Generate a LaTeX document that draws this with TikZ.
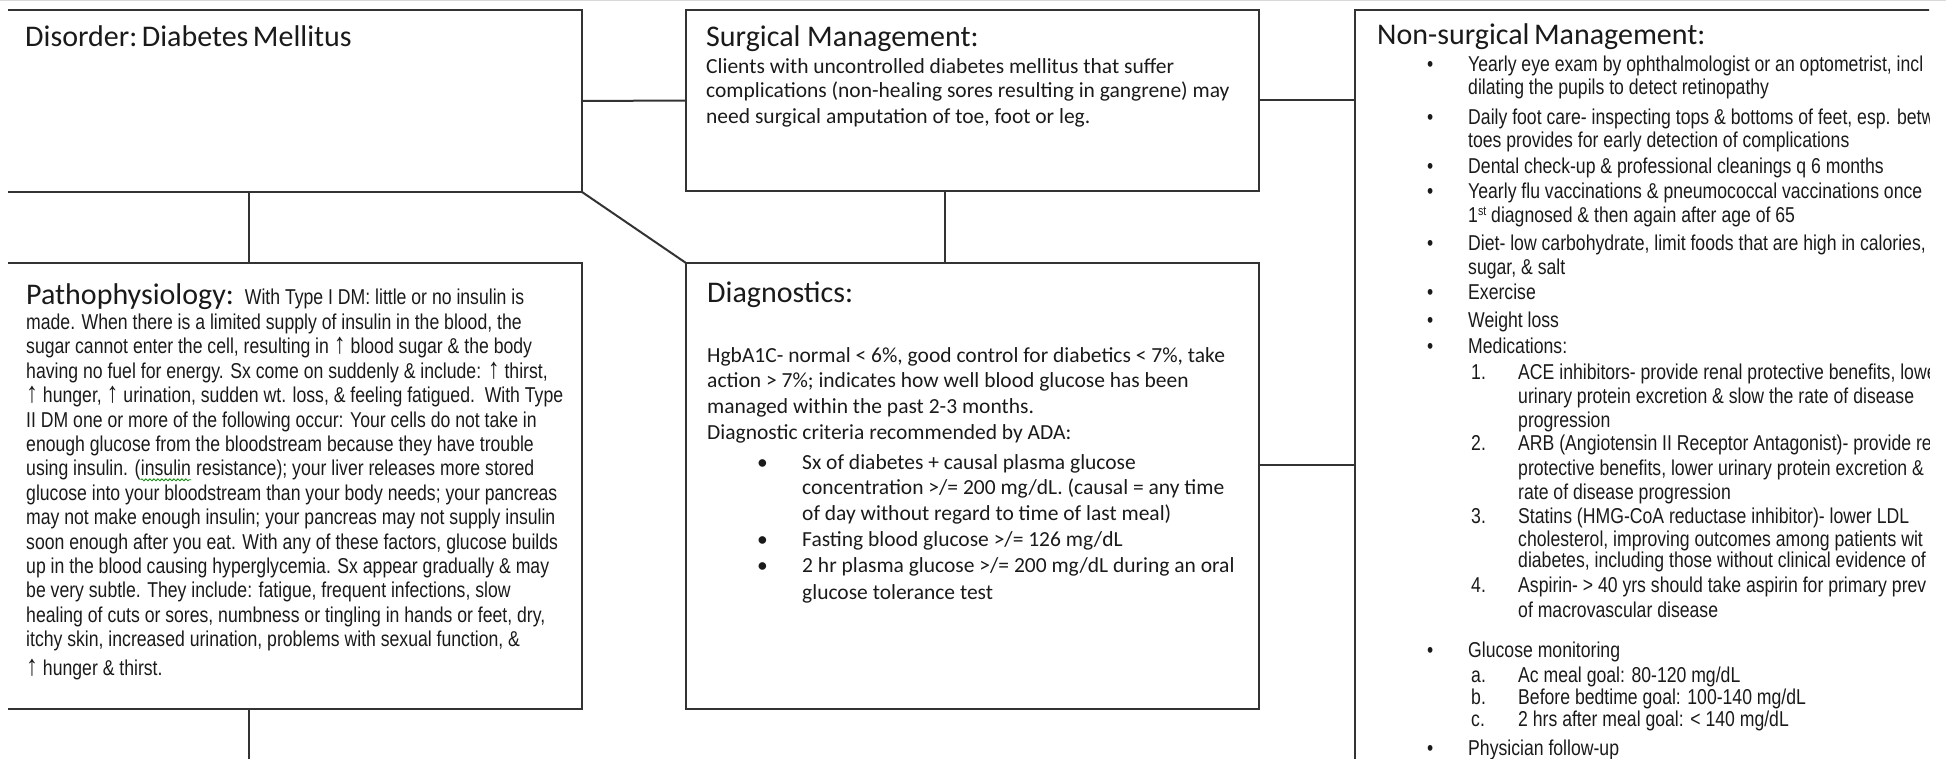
\documentclass[tikz,border=0pt]{standalone}
\usepackage{fontspec}
\setmainfont{Carlito}
\newfontfamily\narrowfont[FakeStretch=0.82]{Liberation Sans}
\newcommand\myup{{\fontsize{29}{29}\selectfont ↑}}
\newcommand\tsp{\hspace{4.5pt}}
\usetikzlibrary{decorations.pathmorphing}
\definecolor{edge}{HTML}{333333}
\definecolor{ink}{HTML}{1A1A1A}
\begin{document}
\begin{tikzpicture}[x=1pt,y=-1pt,
  box/.style={draw=edge, line width=2pt, rectangle, anchor=north west, inner sep=0pt, outer sep=0pt},
  link/.style={draw=edge, line width=2pt},
  hdr/.style={anchor=base west, inner sep=0pt, text=ink, font=\fontsize{30}{36}\selectfont},
  cal/.style={anchor=base west, inner sep=0pt, text=ink, font=\fontsize{21.5}{25}\selectfont},
  nar/.style={anchor=base west, inner sep=0pt, text=ink, font=\narrowfont\fontsize{21.5}{25}\selectfont},
  bul/.style={anchor=base west, inner sep=0pt, text=ink, font=\narrowfont\fontsize{21.5}{25}\selectfont},
]
\useasboundingbox (0,0) rectangle (1946,759);
\draw[gray!30, line width=1.5pt] (0,0.75) -- (1946,0.75);
\begin{scope}
\clip (8,-5) rectangle (1929,770);
% boxes
\node[box, minimum width=592pt, minimum height=182pt] (disorder) at (-10,10) {};
\node[box, minimum width=573pt, minimum height=181pt] (surgical) at (686,10) {};
\node[box, minimum width=592pt, minimum height=446pt] (patho) at (-10,263) {};
\node[box, minimum width=573pt, minimum height=446pt] (diag) at (686,263) {};
\node[box, minimum width=700pt, minimum height=800pt] (nonsurg) at (1355,10) {};
\coordinate (cx1) at (249,0);
\coordinate (cx2) at (945,0);
\coordinate (cy1) at (0,465);
\coordinate (bottom) at (249,780);
% connectors
\draw[link] (disorder.east) -- (surgical.west);
\draw[link] (surgical.east) -- (surgical.east -| nonsurg.west);
\draw[link] (disorder.south -| cx1) -- (patho.north -| cx1);
\draw[link] (disorder.south east) -- (diag.north west);
\draw[link] (surgical.south -| cx2) -- (diag.north -| cx2);
\draw[link] (diag.east |- cy1) -- (nonsurg.west |- cy1);
\draw[link] (patho.south -| cx1) -- (bottom);

% Disorder
\node[hdr] (t-dis) at (25,47) {Disorder:\tsp Diabetes\tsp Mellitus};

% Surgical
\node[hdr] (t-sur) at (706,47) {Surgical Management:};
\node[cal] (s1) at (706,74) {Clients with uncontrolled diabetes mellitus that suffer};
\node[cal] (s2) at (706,98) {complications (non-healing sores resulting in gangrene) may};
\node[cal] (s3) at (706,124) {need surgical amputation of toe, foot or leg.};

% Pathophysiology
\node[nar] (p0) at (26,305) {{\rmfamily\fontsize{30}{36}\selectfont Pathophysiology:}\hspace{11pt}With Type I DM: little or no insulin is};
\node[nar] (p1) at (26,329.4) {made. When there is a limited supply of insulin in the blood, the};
\node[nar] (p2) at (26,353.8) {sugar cannot enter the cell, resulting in \myup\ blood sugar \& the body};
\node[nar] (p3) at (26,378.2) {having no fuel for energy. Sx come on suddenly \& include: \myup\ thirst,};
\node[nar] (p4) at (26,402.6) {\myup\ hunger, \myup\ urination, sudden wt. loss, \& feeling fatigued.\ \ With Type};
\node[nar] (p5) at (26,427.0) {II DM one or more of the following occur: Your cells do not take in};
\node[nar] (p6) at (26,451.4) {enough glucose from the bloodstream because they have trouble};
\node[nar] (p7a) at (26,475.8) {using insulin. (};
\node[nar] (p7b) at (p7a.base east) {insulin};
\node[nar] (p7c) at (p7b.base east) {\ resistance); your liver releases more stored};
\node[nar] (p8) at (26,500.2) {glucose into your bloodstream than your body needs; your pancreas};
\node[nar] (p9) at (26,524.6) {may not make enough insulin; your pancreas may not supply insulin};
\node[nar] (p10) at (26,549.0) {soon enough after you eat. With any of these factors, glucose builds};
\node[nar] (p11) at (26,573.4) {up in the blood causing hyperglycemia. Sx appear gradually \& may};
\node[nar] (p12) at (26,597.8) {be very subtle. They include: fatigue, frequent infections, slow};
\node[nar] (p13) at (26,622.2) {healing of cuts or sores, numbness or tingling in hands or feet, dry,};
\node[nar] (p14) at (26,646.6) {itchy skin, increased urination, problems with sexual function, \&};
\node[nar] (p15) at (26,675) {\myup\ hunger \& thirst.};
\draw[green!55!black, line width=0.8pt, decorate, decoration={snake, amplitude=1pt, segment length=4pt}]
  ([yshift=-4pt]p7b.base west) -- ([yshift=-4pt]p7b.base east);

% Diagnostics
\node[hdr] (t-dia) at (707,303) {Diagnostics:};
\node[cal] (d1) at (707,362) {HgbA1C- normal < 6\%, good control for diabetics < 7\%, take};
\node[cal] (d2) at (707,387) {action > 7\%; indicates how well blood glucose has been};
\node[cal] (d3) at (707,413) {managed within the past 2-3 months.};
\node[cal] (d4) at (707,439) {Diagnostic criteria recommended by ADA:};
\node[cal] (db1) at (757,469) {•};
\node[cal] (d5) at (802,469) {Sx of diabetes + causal plasma glucose};
\node[cal] (d6) at (802,494) {concentration >/= 200 mg/dL. (causal = any time};
\node[cal] (d7) at (802,520) {of day without regard to time of last meal)};
\node[cal] (db2) at (757,546) {•};
\node[cal] (d8) at (802,546) {Fasting blood glucose >/= 126 mg/dL};
\node[cal] (db3) at (757,572) {•};
\node[cal] (d9) at (802,572) {2 hr plasma glucose >/= 200 mg/dL during an oral};
\node[cal] (d10) at (802,599) {glucose tolerance test};

% Non-surgical
\node[hdr] (t-non) at (1377,45) {Non-surgical\tsp Management:};
\node[bul] (nb1) at (1427,72) {•};
\node[nar] (n1) at (1468,72) {Yearly eye exam by ophthalmologist or an optometrist, incl};
\node[nar] (n2) at (1468,95) {dilating the pupils to detect retinopathy};
\node[bul] (nb2) at (1427,125) {•};
\node[nar] (n3) at (1468,125) {Daily foot care- inspecting tops \& bottoms of feet, esp. betw};
\node[nar] (n4) at (1468,148) {toes provides for early detection of complications};
\node[bul] (nb3) at (1427,174) {•};
\node[nar] (n5) at (1468,174) {Dental check-up \& professional cleanings q 6 months};
\node[bul] (nb4) at (1427,199) {•};
\node[nar] (n6) at (1468,199) {Yearly flu vaccinations \& pneumococcal vaccinations once};
\node[nar] (n7) at (1468,223) {1{\fontsize{13}{13}\selectfont\raisebox{7pt}{st}} diagnosed \& then again after age of 65};
\node[bul] (nb5) at (1427,251) {•};
\node[nar] (n8) at (1468,251) {Diet- low carbohydrate, limit foods that are high in calories,};
\node[nar] (n9) at (1468,275) {sugar, \& salt};
\node[bul] (nb6) at (1427,300) {•};
\node[nar] (n10) at (1468,300) {Exercise};
\node[bul] (nb7) at (1427,327) {•};
\node[nar] (n11) at (1468,327) {Weight loss};
\node[bul] (nb8) at (1427,353) {•};
\node[nar] (n12) at (1468,353) {Medications:};
\node[nar] (m1) at (1471,379) {1.};
\node[nar] (m1a) at (1518,379) {ACE inhibitors- provide renal protective benefits, lowe};
\node[nar] (m1b) at (1518,403) {urinary protein excretion \& slow the rate of disease};
\node[nar] (m1c) at (1518,427) {progression};
\node[nar] (m2) at (1471,450) {2.};
\node[nar] (m2a) at (1518,450) {ARB (Angiotensin II Receptor Antagonist)- provide re};
\node[nar] (m2b) at (1518,475) {protective benefits, lower urinary protein excretion \&};
\node[nar] (m2c) at (1518,499) {rate of disease progression};
\node[nar] (m3) at (1471,523) {3.};
\node[nar] (m3a) at (1518,523) {Statins (HMG-CoA reductase inhibitor)- lower LDL};
\node[nar] (m3b) at (1518,546) {cholesterol, improving outcomes among patients wit};
\node[nar] (m3c) at (1518,567) {diabetes, including those without clinical evidence of};
\node[nar] (m4) at (1471,592) {4.};
\node[nar] (m4a) at (1518,592) {Aspirin- > 40 yrs should take aspirin for primary prev};
\node[nar] (m4b) at (1518,617) {of macrovascular disease};
\node[bul] (nb9) at (1427,657) {•};
\node[nar] (n13) at (1468,657) {Glucose monitoring};
\node[nar] (ga) at (1471,682) {a.};
\node[nar] (ga2) at (1518,682) {Ac meal goal: 80-120 mg/dL};
\node[nar] (gb) at (1471,704) {b.};
\node[nar] (gb2) at (1518,704) {Before bedtime goal: 100-140 mg/dL};
\node[nar] (gc) at (1471,726) {c.};
\node[nar] (gc2) at (1518,726) {2 hrs after meal goal: < 140 mg/dL};
\node[bul] (nb10) at (1427,755) {•};
\node[nar] (n14) at (1468,755) {Physician follow-up};
\end{scope}
\end{tikzpicture}
\end{document}
